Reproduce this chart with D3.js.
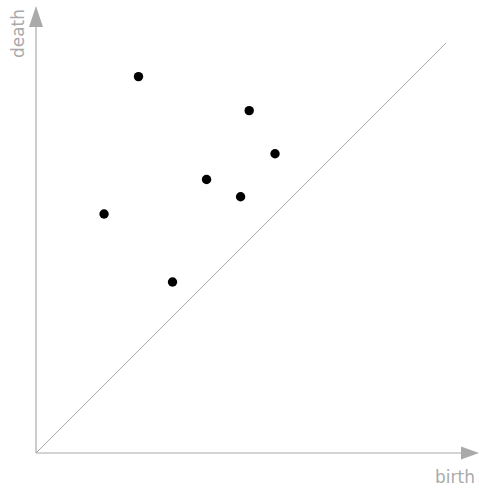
<!DOCTYPE html>
<html>
<head>
<meta charset="utf-8">
<script src="https://cdn.jsdelivr.net/npm/d3@7"></script>
<style>
  body { margin: 0; background: #fff; }
  svg { display: block; }
</style>
</head>
<body>
<svg id="chart" width="479" height="488"></svg>
<script>
// persistence pairs
const birth = [2.5, 5.2, 5.83, 4.16, 4.99, 1.66, 3.33];
const death = [9.18, 8.35, 7.3, 6.67, 6.25, 5.83, 4.17];
const axisLabels = ["birth", "death"];

const svg = d3.select("#chart");
const grey = "#aaaaaa";

const x = d3.scaleLinear().domain([0, 10]).range([36, 446]);
const y = d3.scaleLinear().domain([0, 10]).range([453, 43]);

// axes with arrow heads
svg.append("line")
    .attr("x1", x(0)).attr("y1", y(0))
    .attr("x2", 466).attr("y2", y(0))
    .attr("stroke", grey).attr("stroke-width", 1.2);
svg.append("path")
    .attr("d", "M479," + y(0) + "L461," + (y(0) - 6.5) + "L461," + (y(0) + 6.5) + "Z")
    .attr("fill", grey);

svg.append("line")
    .attr("x1", x(0)).attr("y1", y(0))
    .attr("x2", x(0)).attr("y2", 22)
    .attr("stroke", grey).attr("stroke-width", 1.2);
svg.append("path")
    .attr("d", "M" + x(0) + ",6L" + (x(0) - 7) + ",27L" + (x(0) + 7) + ",27Z")
    .attr("fill", grey);

// diagonal
svg.append("line")
    .attr("x1", x(0)).attr("y1", y(0))
    .attr("x2", x(10)).attr("y2", y(10))
    .attr("stroke", grey).attr("stroke-width", 1);

svg.append("text")
    .attr("x", 475).attr("y", 483)
    .attr("text-anchor", "end")
    .attr("font-family", "DejaVu Sans")
    .attr("font-size", 17)
    .attr("fill", grey)
    .text(axisLabels[0]);

svg.append("text")
    .attr("transform", "translate(24,9) rotate(-90)")
    .attr("text-anchor", "end")
    .attr("font-family", "DejaVu Sans")
    .attr("font-size", 17)
    .attr("fill", grey)
    .text(axisLabels[1]);

svg.selectAll("circle")
    .data(birth.map((b, i) => [b, death[i]]))
    .enter().append("circle")
    .attr("cx", d => x(d[0]))
    .attr("cy", d => y(d[1]))
    .attr("r", 4.7)
    .attr("fill", "#000");
</script>
</body>
</html>
